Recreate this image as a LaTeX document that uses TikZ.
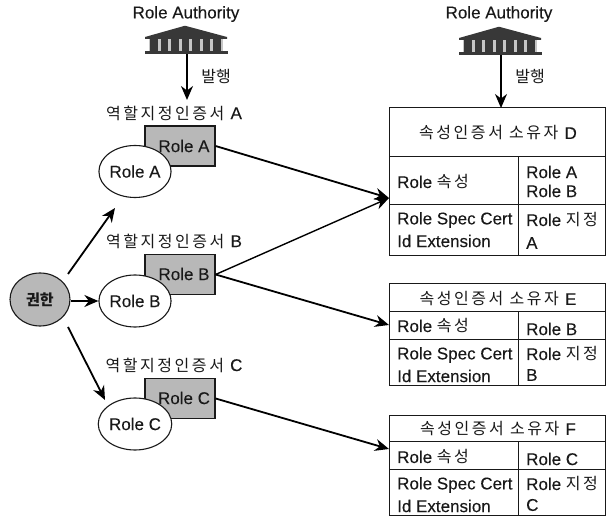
\documentclass[tikz,border=0pt]{standalone}
\usepackage{fontspec}
\usetikzlibrary{arrows.meta,shapes.geometric}
\setmainfont[FakeBold=0.15]{Liberation Sans}
\newfontfamily\kr[LetterSpace=16]{Noto Sans CJK KR}
\newfontfamily\krn{Noto Sans CJK KR}
\newcommand{\lat}[1]{{\fontsize{17}{20}\selectfont\rmfamily #1}}
\definecolor{ink}{gray}{0.10}
\definecolor{shade}{gray}{0.72}
\definecolor{icon}{gray}{0.22}
\tikzset{
  lab/.style={font=\fontsize{17}{20}\selectfont,text=ink,inner sep=0pt},
  cellt/.style={lab,anchor=west},
  krlab/.style={font=\fontsize{16}{20}\selectfont\kr,text=ink,inner sep=0pt},
  krs/.style={font=\fontsize{16}{20}\selectfont\krn,text=ink,inner sep=0pt},
  cert/.style={draw=ink,line width=1.2pt,fill=shade,rectangle,minimum width=70pt,minimum height=40pt,inner sep=0pt},
  role/.style={draw=ink,line width=1.1pt,fill=white,ellipse,minimum width=66pt,minimum height=52pt,inner sep=0pt,font=\fontsize{17}{20}\selectfont,text=ink},
  cell/.style={draw=ink,line width=1pt,rectangle,anchor=north west,inner sep=0pt,outer sep=0pt},
  arr/.style={draw=black,line width=1.8pt,-{Stealth[length=14pt,width=12pt]}},
  hold/.style={inner sep=0pt,minimum width=84pt,minimum height=28pt}
}
\newcommand{\temple}[1]{%
  \begin{scope}[shift={(#1)}]
    \fill[icon] (-42,-3) -- (-3,-14) -- (-1,-14) -- (40,-3) -- (40,-1) -- (-42,-1) -- cycle;
    \fill[gray!45] (-38,-1) rectangle (36,11);
    \foreach \i in {-33,-22.5,-12,-1.5,9,19.5,30} {\fill[icon] (\i-3.8,-1) rectangle (\i+3.8,11);}
    \fill[icon] (-42,11) rectangle (41,14);
  \end{scope}}
\begin{document}
\begin{tikzpicture}[x=1pt,y=-1pt]
\useasboundingbox (0,0) rectangle (606,518);
\fill[white] (0,0) rectangle (606,518);

% issuers
\node[lab] (ra1) at (186,14) {Role Authority};
\node[lab] (ra2) at (499,14) {Role Authority};
\node[hold] (t1) at (187,40) {};
\node[hold] (t2) at (501,41) {};
\temple{187,40}
\temple{501,41}
\node[krs] (i1) at (216,76) {발행};
\node[krs] (i2) at (530,76) {발행};

% certificates
\node[krlab] (ca) at (174,113) {역할지정인증서 \lat{A}};
\node[krlab] (cb) at (174,241) {역할지정인증서 \lat{B}};
\node[krlab] (cc) at (174,365) {역할지정인증서 \lat{C}};

\node[cert] (ra) at (180,146) {};
\node[cert] (rb) at (180,274.5) {};
\node[cert] (rc) at (180,398.5) {};
\node[lab] (rat) at (184,146) {Role A};
\node[lab] (rbt) at (184,274) {Role B};
\node[lab] (rct) at (184,398) {Role C};
\node[role] (ea) at (135,171.5) {Role A};
\node[role] (eb) at (135,301) {Role B};
\node[role] (ec) at (135,424) {Role C};

\node[draw=ink,line width=1.1pt,fill=shade,ellipse,minimum width=60pt,minimum height=53pt,inner sep=0pt,font=\fontsize{15}{18}\selectfont\krn\bfseries,text=ink] (g) at (40,299.5) {권한};

% table D
\node[cell,minimum width=216pt,minimum height=49pt] (d0) at (389,108) {};
\node[cell,minimum width=129pt,minimum height=48pt] (d1) at (389,157) {};
\node[cell,minimum width=87pt,minimum height=48pt] (d2) at (518,157) {};
\node[cell,minimum width=129pt,minimum height=51pt] (d3) at (389,205) {};
\node[cell,minimum width=87pt,minimum height=51pt] (d4) at (518,205) {};
\node[krlab] (d0t) at (498,133) {속성인증서 소유자 \lat{D}};
\node[cellt] (d1t) at (397,182) {Role {\fontsize{16}{20}\selectfont\kr 속성}};
\node[cellt] (d2t) at (526,172) {Role A};
\node[cellt] (d2u) at (526,191) {Role B};
\node[cellt] (d3t) at (397,220) {Role Spec Cert};
\node[cellt] (d3u) at (397,241) {Id Extension};
\node[cellt] (d4t) at (526,220) {Role {\fontsize{16}{20}\selectfont\kr 지정}};
\node[cellt] (d4u) at (526,243) {A};

% table E
\node[cell,minimum width=216pt,minimum height=28pt] (e0) at (389,284) {};
\node[cell,minimum width=129pt,minimum height=28pt] (e1) at (389,312) {};
\node[cell,minimum width=87pt,minimum height=28pt] (e2) at (518,312) {};
\node[cell,minimum width=129pt,minimum height=46pt] (e3) at (389,340) {};
\node[cell,minimum width=87pt,minimum height=46pt] (e4) at (518,340) {};
\node[krlab] (e0t) at (498,299) {속성인증서 소유자 \lat{E}};
\node[cellt] (e1t) at (397,326) {Role {\fontsize{16}{20}\selectfont\kr 속성}};
\node[cellt] (e2t) at (526,329) {Role B};
\node[cellt] (e3t) at (397,355) {Role Spec Cert};
\node[cellt] (e3u) at (397,376) {Id Extension};
\node[cellt] (e4t) at (526,354) {Role {\fontsize{16}{20}\selectfont\kr 지정}};
\node[cellt] (e4u) at (526,375) {B};

% table F
\node[cell,minimum width=216pt,minimum height=26pt] (f0) at (389,416) {};
\node[cell,minimum width=129pt,minimum height=28pt] (f1) at (389,442) {};
\node[cell,minimum width=87pt,minimum height=28pt] (f2) at (518,442) {};
\node[cell,minimum width=129pt,minimum height=46pt] (f3) at (389,470) {};
\node[cell,minimum width=87pt,minimum height=46pt] (f4) at (518,470) {};
\node[krlab] (f0t) at (498,429) {속성인증서 소유자 \lat{F}};
\node[cellt] (f1t) at (397,457) {Role {\fontsize{16}{20}\selectfont\kr 속성}};
\node[cellt] (f2t) at (526,459) {Role C};
\node[cellt] (f3t) at (397,485) {Role Spec Cert};
\node[cellt] (f3u) at (397,506) {Id Extension};
\node[cellt] (f4t) at (526,484) {Role {\fontsize{16}{20}\selectfont\kr 지정}};
\node[cellt] (f4u) at (526,505) {C};

% connector ends
\coordinate (pd) at (389,198);
\coordinate (pe) at (389,325);
\coordinate (pf) at (389,449);
\coordinate (ga) at (68,274);
\coordinate (gc) at (68,327);
\coordinate (ta) at (115,208);
\coordinate (tc) at (105,400);
\coordinate (ca1) at (186,100);

% connectors
\draw[arr] (t1.south) -- (t1.south |- ca1);
\draw[arr] (t2.south) -- (d0.north -| t2.south);
\draw[arr] (ga) -- (ta);
\draw[arr] (g.east |- eb.west) -- (eb.west);
\draw[arr] (gc) -- (tc);
\draw[arr] (ra.east) -- (pd);
\draw[arr,line width=1.4pt] (rb.east) -- (pd);
\draw[arr] (rb.east) -- (pe);
\draw[arr] (rc.east) -- (pf);
\end{tikzpicture}
\end{document}
